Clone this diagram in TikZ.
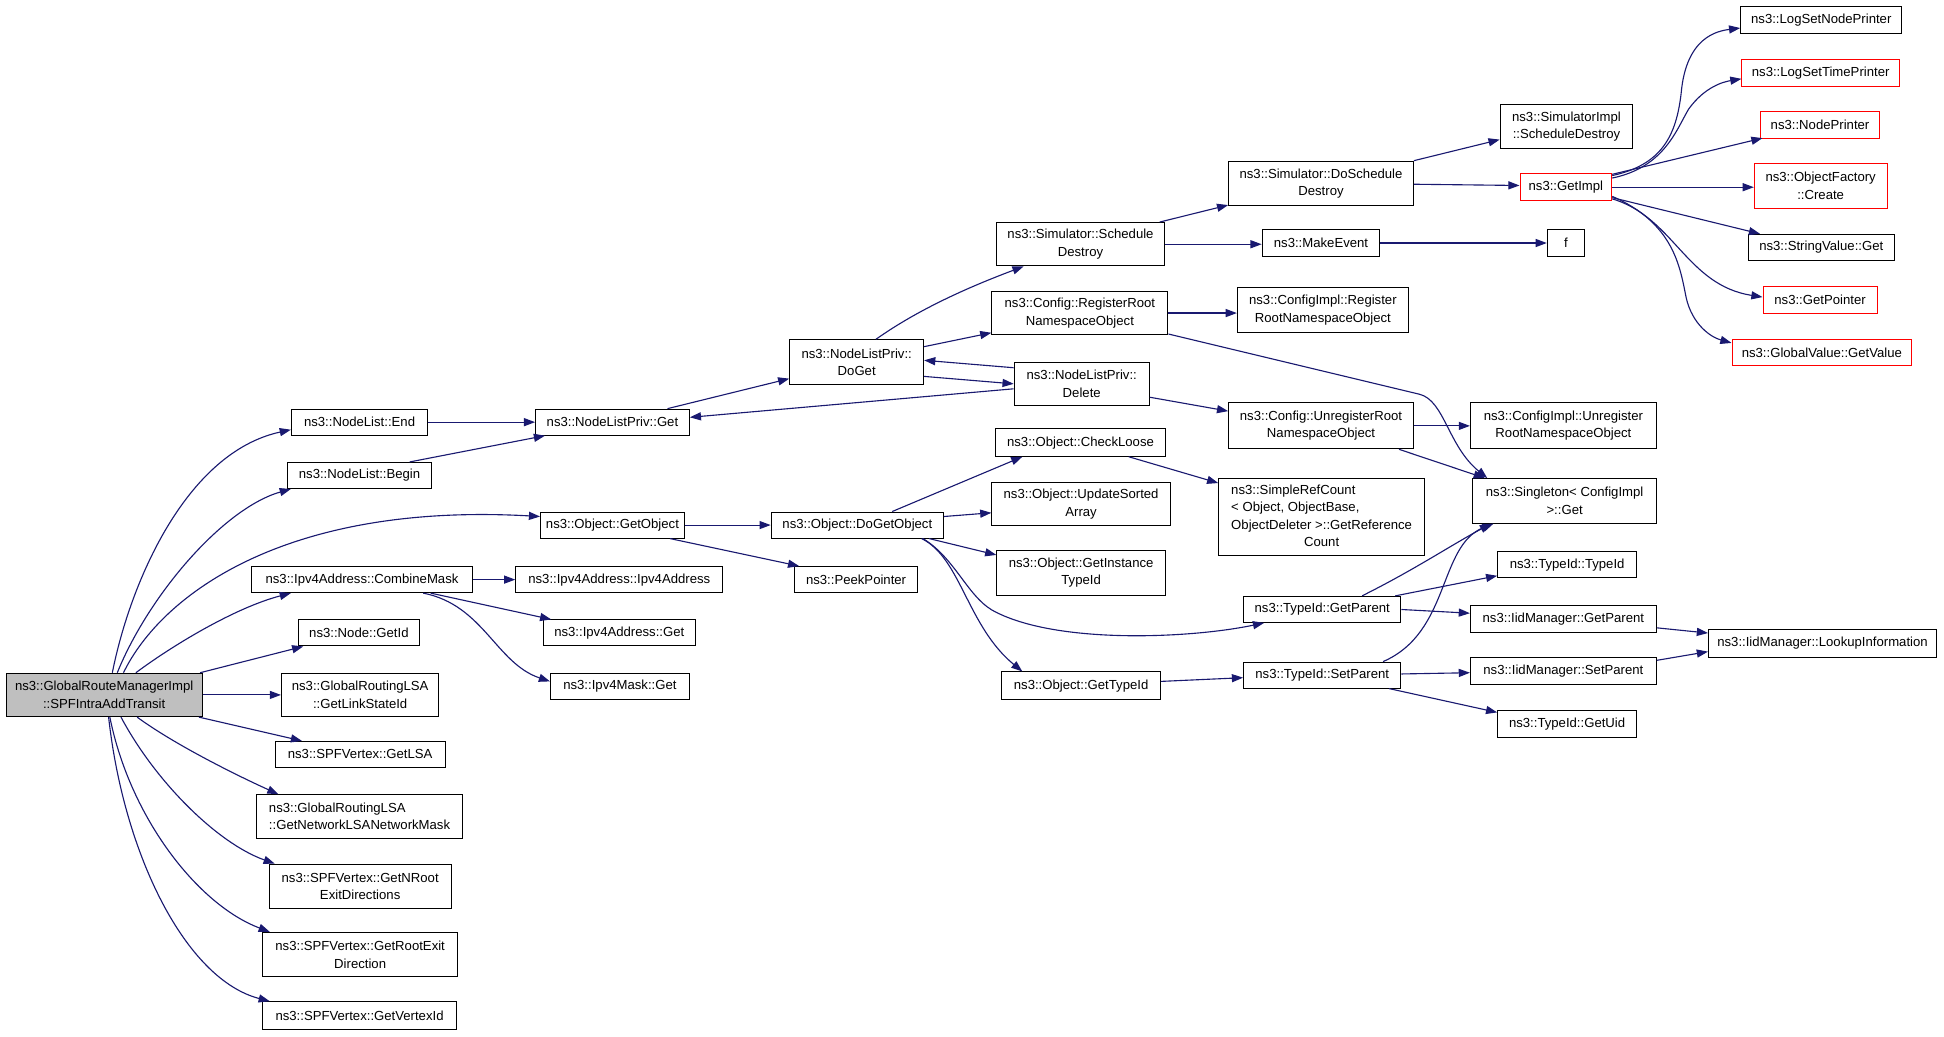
\documentclass[tikz,border=0pt]{standalone}
\usepackage{fontspec}
\setmainfont{Liberation Sans}
\usetikzlibrary{arrows.meta,calc}
\definecolor{edgeblue}{RGB}{25,25,112}
\definecolor{mainfill}{RGB}{191,191,191}
\tikzset{
  box/.style={draw=black, line width=0.8pt, fill=white, inner sep=0pt, align=center,
    font=\fontsize{10.6}{14}\selectfont},
  redbox/.style={draw=red},
  mainbox/.style={fill=mainfill},
  call/.style={draw=edgeblue, line width=0.9pt, -{Triangle[length=9pt,width=6.5pt]}}
}
\newcommand\nb[7][]{\node[box,minimum width=#5pt,minimum height=#6pt,#1] (#2) at (#3,#4) {#7};}
\begin{document}
\begin{tikzpicture}[x=1pt,y=-1pt]
\fill[white] (0,0) rectangle (1568,836);
\useasboundingbox (0,0) rectangle (1568,836);
% nodes
\nb[mainbox]{main}{84}{560.5}{158}{35}{ns3::GlobalRouteManagerImpl\\::SPFIntraAddTransit}
\nb{end}{290}{340.5}{110}{21}{ns3::NodeList::End}
\nb{begin}{290}{383.5}{116}{21}{ns3::NodeList::Begin}
\nb{getobj}{494}{423.5}{116}{21}{ns3::Object::GetObject}
\nb{comb}{292}{467.5}{178}{21}{ns3::Ipv4Address::CombineMask}
\nb{nodeid}{289.5}{510.5}{97}{21}{ns3::Node::GetId}
\nb{linkst}{290.5}{560.5}{127}{35}{ns3::GlobalRoutingLSA\\::GetLinkStateId}
\nb{getlsa}{290.5}{608.5}{137}{21}{ns3::SPFVertex::GetLSA}
\nb[align=left]{netmask}{290}{658.5}{166}{35}{ns3::GlobalRoutingLSA\\::GetNetworkLSANetworkMask}
\nb{nroot}{290.5}{715}{147}{36}{ns3::SPFVertex::GetNRoot\\ExitDirections}
\nb{rootexit}{290.5}{770}{157}{36}{ns3::SPFVertex::GetRootExit\\Direction}
\nb{vertexid}{290}{819}{156}{22}{ns3::SPFVertex::GetVertexId}
\nb{nlpget}{494}{340.5}{124}{21}{ns3::NodeListPriv::Get}
\nb{v4addr}{499.5}{467.5}{167}{21}{ns3::Ipv4Address::Ipv4Address}
\nb{v4get}{499.5}{510.5}{123}{21}{ns3::Ipv4Address::Get}
\nb{maskget}{500}{553.5}{112}{21}{ns3::Ipv4Mask::Get}
\nb{doget}{691}{292}{108}{36}{ns3::NodeListPriv::\\DoGet}
\nb{dgo}{691.5}{423.5}{139}{21}{ns3::Object::DoGetObject}
\nb{peek}{690.5}{467.5}{99}{21}{ns3::PeekPointer}
\nb{sched}{871.5}{197}{135}{35}{ns3::Simulator::Schedule\\Destroy}
\nb{regroot}{871}{252.5}{142}{35}{ns3::Config::RegisterRoot\\NamespaceObject}
\nb{delete}{872.5}{309.5}{109}{35}{ns3::NodeListPriv::\\Delete}
\nb{checkloose}{871.5}{357}{137}{22}{ns3::Object::CheckLoose}
\nb{upd}{872}{406.5}{144}{35}{ns3::Object::UpdateSorted\\Array}
\nb{ginst}{872}{462}{136}{36}{ns3::Object::GetInstance\\TypeId}
\nb{gtid}{872}{553}{128}{22}{ns3::Object::GetTypeId}
\nb{dosched}{1065.5}{148}{149}{36}{ns3::Simulator::DoSchedule\\Destroy}
\nb{mkev}{1065.5}{196}{95}{22}{ns3::MakeEvent}
\nb{cireg}{1067}{250}{138}{36}{ns3::ConfigImpl::Register\\RootNamespaceObject}
\nb{unreg}{1065.5}{343.5}{149}{37}{ns3::Config::UnregisterRoot\\NamespaceObject}
\nb{srefc}{1066}{417}{166}{62}{\begin{tabular}{@{}l@{}}ns3::SimpleRefCount\\< Object, ObjectBase,\\ObjectDeleter >::GetReference\\\multicolumn{1}{@{}c@{}}{Count}\end{tabular}}
\nb{single}{1262}{404}{148}{36}{ns3::Singleton< ConfigImpl\\>::Get}
\nb{tgp}{1066.5}{491.5}{127}{21}{ns3::TypeId::GetParent}
\nb{tsp}{1066.5}{544.5}{127}{21}{ns3::TypeId::SetParent}
\nb{simimpl}{1263.5}{102}{107}{36}{ns3::SimulatorImpl\\::ScheduleDestroy}
\nb[redbox]{getimpl}{1263}{151}{74}{22}{ns3::GetImpl}
\nb{f}{1263}{196}{30}{22}{f}
\nb{ciunreg}{1261}{343.5}{150}{37}{ns3::ConfigImpl::Unregister\\RootNamespaceObject}
\nb{ttid}{1264}{455.5}{112}{21}{ns3::TypeId::TypeId}
\nb{igp}{1261}{499}{150}{22}{ns3::IidManager::GetParent}
\nb{isp}{1261}{541}{150}{22}{ns3::IidManager::SetParent}
\nb{guid}{1264}{584}{112}{22}{ns3::TypeId::GetUid}
\nb{lookup}{1470}{519}{184}{22}{ns3::IidManager::LookupInformation}
\nb{lnp}{1469}{16}{130}{22}{ns3::LogSetNodePrinter}
\nb[redbox]{ltp}{1468.5}{59}{127}{22}{ns3::LogSetTimePrinter}
\nb[redbox]{np}{1468}{101}{96}{22}{ns3::NodePrinter}
\nb[redbox]{ofc}{1468.5}{150}{107}{36}{ns3::ObjectFactory\\::Create}
\nb{svg}{1469}{199.5}{118}{21}{ns3::StringValue::Get}
\nb[redbox]{gp}{1468}{242}{92}{22}{ns3::GetPointer}
\nb[redbox]{gvv}{1469.5}{284.5}{145}{21}{ns3::GlobalValue::GetValue}
% edges from main
\draw[call] ($(main.north west)+(86,0)$) .. controls (105,470) and (150,365) .. ($(end.north west)+(0,17)$);
\draw[call] ($(main.north west)+(90,0)$) .. controls (120,480) and (180,410) .. ($(begin.south west)+(3,0)$);
\draw[call] ($(main.north west)+(95,0)$) .. controls (130,480) and (230,405) .. ($(getobj.north west)+(0,4)$);
\draw[call] ($(main.north west)+(105,0)$) .. controls (140,520) and (190,490) .. ($(comb.south west)+(32,0)$);
\draw[call] ($(main.north east)+(-2,0)$) -- ($(nodeid.south west)+(4,0)$);
\draw[call] (main.east) -- (linkst.west);
\draw[call] ($(main.south east)+(-3,0)$) -- ($(getlsa.north west)+(22,0)$);
\draw[call] ($(main.south west)+(106,0)$) .. controls (140,600) and (190,625) .. ($(netmask.north west)+(18,0)$);
\draw[call] ($(main.south west)+(93,0)$) .. controls (125,630) and (175,680) .. ($(nroot.north west)+(5,0)$);
\draw[call] ($(main.south west)+(84,0)$) .. controls (105,660) and (160,730) .. ($(rootexit.north west)+(6,0)$);
\draw[call] ($(main.south west)+(83,0)$) .. controls (100,690) and (150,790) .. ($(vertexid.north west)+(6,0)$);
% column 2
\draw[call] (end.east) -- (nlpget.west);
\draw[call] ($(begin.north east)+(-18,0)$) -- ($(nlpget.south west)+(8,0)$);
\draw[call] ($(nlpget.north east)+(-18,0)$) -- ($(doget.south west)+(0,-5)$);
\draw[call] ($(getobj.east)$) -- (getobj.east -| dgo.west);
\draw[call] ($(getobj.south east)+(-12,0)$) -- ($(peek.north west)+(4,0)$);
\draw[call] (comb.east) -- (comb.east -| v4addr.west);
\draw[call] ($(comb.south east)+(-34,0)$) -- ($(v4get.north west)+(7,0)$);
\draw[call] ($(comb.south east)+(-40,0)$) .. controls (390,488) and (400,535) .. ($(maskget.north west)+(0,7)$);
% DoGet
\draw[call] ($(doget.north west)+(70,0)$) .. controls (740,250) and (780,232) .. ($(sched.south west)+(22,0)$);
\draw[call] ($(doget.north east)+(0,6)$) -- ($(regroot.south west)+(0,-2)$);
\draw[call] ($(doget.north east)+(0,30)$) -- ($(delete.north west)+(0,18)$);
\draw[call] ($(delete.north west)+(0,5)$) -- ($(doget.north east)+(0,17)$);
\draw[call] ($(delete.north west)+(0,22)$) -- ($(nlpget.north east)+(0,7)$);
% column 4
\draw[call] (regroot.east) -- (regroot.east -| cireg.west);
\draw[call] ($(regroot.south east)+(0,-1)$) -- (1145,318) .. controls (1165,323) and (1168,360) .. ($(single.north west)+(12,0)$);
\draw[call] ($(delete.south east)+(0,-7)$) -- ($(unreg.north west)+(0,7)$);
\draw[call] (unreg.east) -- (unreg.east -| ciunreg.west);
\draw[call] ($(unreg.south east)+(-12,0)$) -- ($(single.north west)+(10,0)$);
\draw[call] ($(sched.north east)+(-4,0)$) -- ($(dosched.south west)+(0,-1)$);
\draw[call] (sched.east) -- (sched.east -| mkev.west);
\draw[call] (dosched.north east) -- ($(simimpl.north west)+(0,29)$);
\draw[call] ($(dosched.north east)+(0,19)$) -- ($(getimpl.north west)+(0,10)$);
\draw[call] (mkev.east) -- (mkev.east -| f.west);
% GetImpl fan
\draw[call] ($(getimpl.north east)+(0,2)$) .. controls (1340,133) and (1352,110) .. (1356,75) .. controls (1360,30) and (1385,25) .. ($(lnp.north west)+(0,18)$);
\draw[call] ($(getimpl.north east)+(0,4)$) .. controls (1342,135) and (1352,105) .. (1362,88) .. controls (1375,70) and (1390,66) .. ($(ltp.north west)+(0,16)$);
\draw[call] ($(getimpl.north east)+(0,1)$) -- ($(np.south west)+(2,-1)$);
\draw[call] (getimpl.east) -- (getimpl.east -| ofc.west);
\draw[call] ($(getimpl.south east)+(0,-3)$) -- ($(svg.north west)+(10,0)$);
\draw[call] ($(getimpl.south east)+(0,-2)$) .. controls (1350,175) and (1360,230) .. ($(gp.north west)+(0,9)$);
\draw[call] ($(getimpl.south east)+(0,-4)$) .. controls (1350,180) and (1355,215) .. (1360,240) .. controls (1365,262) and (1380,272) .. ($(gvv.north west)+(0,3)$);
% DoGetObject
\draw[call] ($(dgo.north west)+(98,0)$) -- ($(checkloose.south west)+(22,0)$);
\draw[call] ($(dgo.north east)+(0,4)$) -- ($(upd.north west)+(0,25)$);
\draw[call] ($(dgo.south east)+(-12,0)$) -- ($(ginst.north west)+(0,4)$);
\draw[call] ($(dgo.south east)+(-17,0)$) .. controls (770,450) and (780,480) .. (800,492) .. controls (850,520) and (960,515) .. ($(tgp.south west)+(17,0)$);
\draw[call] ($(dgo.south east)+(-18,0)$) .. controls (775,450) and (780,505) .. ($(gtid.north west)+(17,0)$);
\draw[call] ($(checkloose.south east)+(-30,0)$) -- ($(srefc.north west)+(0,4)$);
\draw[call] ($(gtid.north east)+(0,8)$) -- ($(tsp.north west)+(0,13)$);
% TypeId
\draw[call] ($(tgp.north west)+(96,0)$) .. controls (1140,460) and (1170,440) .. ($(single.south west)+(15,0)$);
\draw[call] ($(tsp.north west)+(113,0)$) .. controls (1170,510) and (1160,440) .. ($(single.south west)+(17,0)$);
\draw[call] ($(tgp.north east)+(-5,0)$) -- ($(ttid.south west)+(0,-2)$);
\draw[call] ($(tgp.north east)+(0,11)$) -- ($(igp.north west)+(0,7)$);
\draw[call] ($(tsp.north east)+(0,10)$) -- ($(isp.north west)+(0,13)$);
\draw[call] ($(tsp.south east)+(-10,0)$) -- ($(guid.north west)+(0,2)$);
\draw[call] ($(igp.south east)+(0,-4)$) -- ($(lookup.north west)+(0,3)$);
\draw[call] ($(isp.north east)+(0,3)$) -- ($(lookup.north west)+(0,18)$);
\end{tikzpicture}
\end{document}
